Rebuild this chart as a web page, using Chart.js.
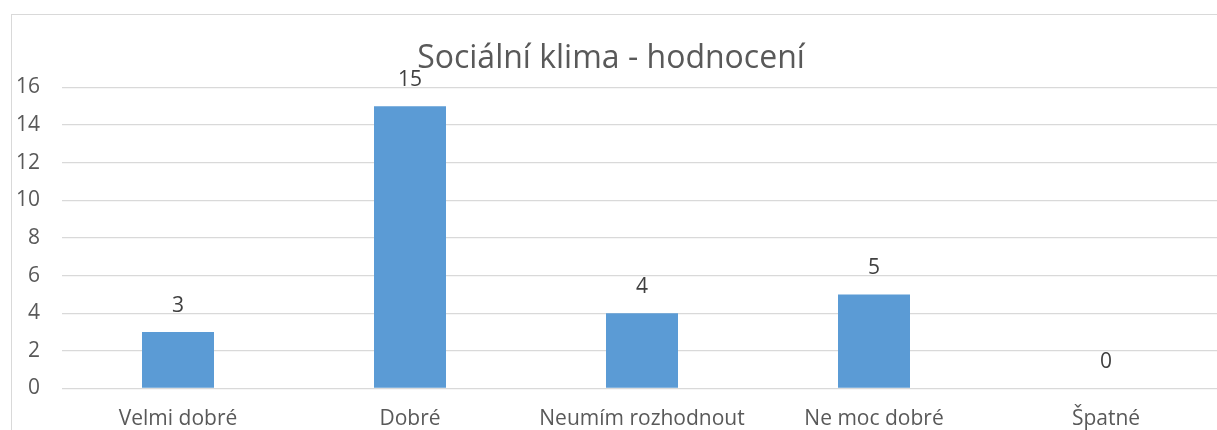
<!DOCTYPE html>
<html lang="cs">
<head>
<meta charset="UTF-8">
<title>Sociální klima - hodnocení</title>
<script src="https://cdn.jsdelivr.net/npm/chart.js"></script>
<style>
    html, body { margin: 0; padding: 0; background: #fff; overflow: hidden; }
    #ramecek {
        position: absolute; left: 11px; top: 14px;
        width: 1400px; height: 600px;
        border: 1.5px solid #d9d9d9;
    }
    #obal { position: absolute; left: 0; top: 0; width: 1240px; height: 430px; }
</style>
</head>
<body>

<div id="ramecek"></div>
<div id="obal">
    <canvas id="grafKlima" width="1240" height="430"></canvas>
</div>

<script>
    // data z grafu
    const kategorie = ['Velmi dobré', 'Dobré', 'Neumím rozhodnout', 'Ne moc dobré', 'Špatné'];
    const hodnoty = [3, 15, 4, 5, 0];
    const osaY = [0, 2, 4, 6, 8, 10, 12, 14, 16];

    const pismo = '"Open Sans", "Noto Sans", sans-serif';

    // popisky hodnot nad sloupci
    const popiskyHodnot = {
        id: 'popiskyHodnot',
        afterDatasetsDraw(chart) {
            const ctx = chart.ctx;
            const meta = chart.getDatasetMeta(0);
            ctx.save();
            ctx.font = '21px ' + pismo;
            ctx.fillStyle = '#404040';
            ctx.textAlign = 'center';
            ctx.textBaseline = 'middle';
            meta.data.forEach((sloupec, i) => {
                ctx.fillText(String(hodnoty[i]), sloupec.x, sloupec.y - 26);
            });
            ctx.restore();
        }
    };

    new Chart(document.getElementById('grafKlima').getContext('2d'), {
        type: 'bar',
        data: {
            labels: kategorie,
            datasets: [{
                label: 'Počet',
                data: hodnoty,
                backgroundColor: '#5b9bd5',
                borderWidth: 0,
                barPercentage: 72 / 232,
                categoryPercentage: 1
            }]
        },
        options: {
            responsive: false,
            animation: false,
            layout: { padding: { left: 0, right: 18, top: 0, bottom: 0 } },
            plugins: {
                legend: { display: false },
                tooltip: { enabled: false },
                title: {
                    display: true,
                    text: 'Sociální klima - hodnocení',
                    color: '#595959',
                    font: { family: pismo, size: 32, weight: 'normal', lineHeight: 1.2 },
                    padding: { top: 40, bottom: 9.1 }
                }
            },
            scales: {
                x: {
                    grid: { display: false, drawTicks: false },
                    border: { display: false },
                    ticks: {
                        color: '#595959',
                        font: { family: pismo, size: 21 },
                        padding: 18,
                        maxRotation: 0,
                        autoSkip: false
                    },
                    afterFit(scale) { scale.height = 41.5; }
                },
                y: {
                    min: 0,
                    max: 16,
                    afterBuildTicks(scale) { scale.ticks = osaY.map(v => ({ value: v })); },
                    grid: { color: '#d9d9d9', lineWidth: 1.3, drawTicks: false },
                    border: { display: false },
                    ticks: {
                        color: '#595959',
                        font: { family: pismo, size: 21 },
                        padding: 22
                    },
                    afterFit(scale) { scale.width = 62; }
                }
            }
        },
        plugins: [popiskyHodnot]
    });
</script>

</body>
</html>
